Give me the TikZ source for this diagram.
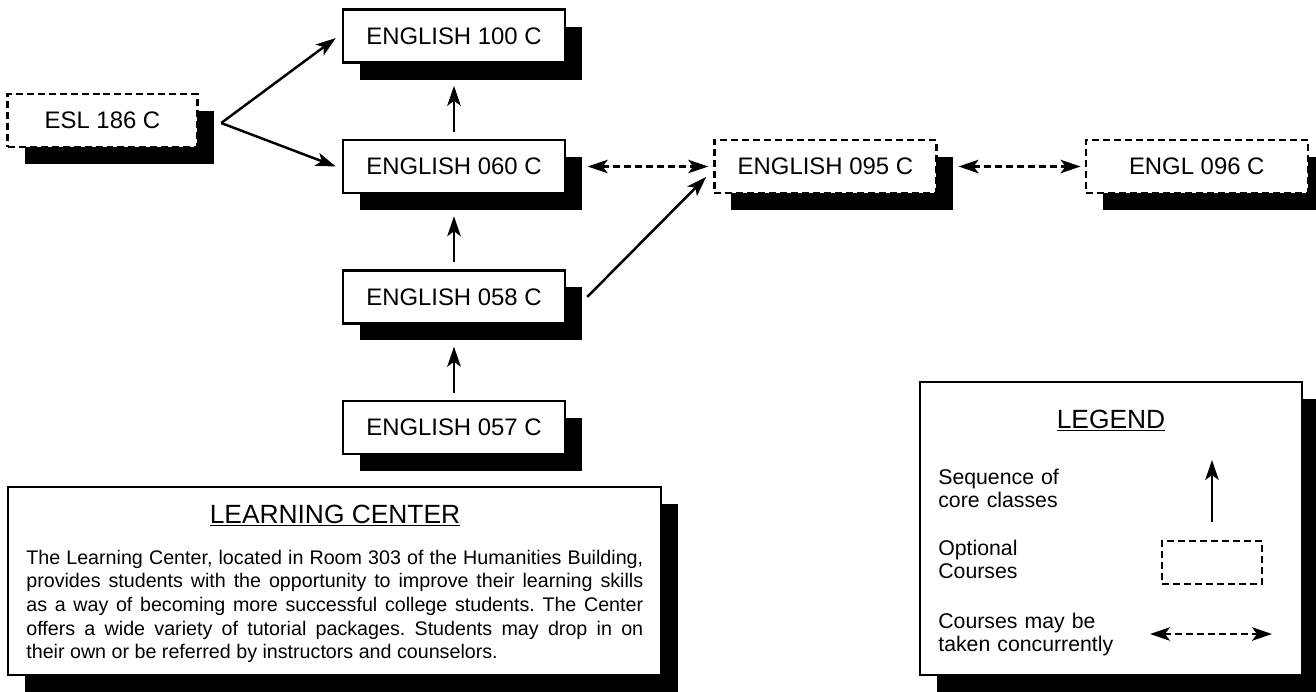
\documentclass[tikz,border=0pt]{standalone}
\usepackage{fontspec}
\setmainfont{Liberation Sans}
\frenchspacing
\usetikzlibrary{positioning}
\usetikzlibrary{shadows}
\usetikzlibrary{arrows.meta}

\begin{document}
\begin{tikzpicture}[x=0.02cm, y=-0.02cm, node distance=1.5cm and 2.94cm,
  >={Stealth[length=0.4cm, width=0.27cm, inset=0.1cm]},
  panel/.style={draw, line width=1.4pt, fill=white, inner sep=0pt,
    general shadow={fill=black, shadow xshift=0.34cm, shadow yshift=-0.34cm}},
  course/.style={panel, minimum width=4.44cm, minimum height=1.06cm,
    font=\fontsize{13.6}{16}\selectfont},
  optcourse/.style={course, dash pattern=on 0.14cm off 0.08cm},
  seq/.style={->, line width=1.4pt},
  conc/.style={<->, line width=1.4pt, dash pattern=on 0.14cm off 0.08cm},
  legtext/.style={anchor=base west, inner sep=0pt, text width=4cm, align=left,
    font=\fontsize{12.1}{13.1}\selectfont}]
\useasboundingbox (0,0) rectangle (1316,691);

% course boxes
\node[course] (e060) at (454,166.5) {ENGLISH 060 C};
\node[course, above=of e060] (e100) {ENGLISH 100 C};
\node[course, below=of e060] (e058) {ENGLISH 058 C};
\node[course, below=of e058] (e057) {ENGLISH 057 C};
\node[optcourse, right=of e060] (e095) {ENGLISH 095 C};
\node[optcourse, right=of e095] (e096) {ENGL 096 C};
\node[optcourse, minimum width=3.8cm] (esl) at (102.5,120.5) {ESL 186 C};

% connectors
\coordinate (fork) at ([xshift=0.45cm, yshift=-0.05cm]esl.east);
\draw[seq] (fork) -- ([xshift=-0.12cm, yshift=-0.04cm]e100.west);
\draw[seq] (fork) -- ([xshift=-0.12cm]e060.west);
\draw[seq] ([yshift=0.14cm]e060.north) -- ([yshift=-0.44cm]e100.south);
\draw[seq] ([yshift=0.14cm]e058.north) -- ([yshift=-0.44cm]e060.south);
\draw[seq] ([yshift=0.14cm]e057.north) -- ([yshift=-0.44cm]e058.south);
\draw[seq] ([xshift=0.42cm]e058.east) -- ([xshift=-0.14cm, yshift=-0.21cm]e095.west);
\draw[conc] ([xshift=0.43cm]e060.east) -- ([xshift=-0.1cm]e095.west);
\draw[conc] ([xshift=0.42cm]e095.east) -- ([xshift=-0.08cm]e096.west);

% learning center
\node[panel, minimum width=13.06cm, minimum height=3.76cm] (lcbox) at (334.5,581) {};
\node[anchor=base, font=\fontsize{15}{18}\selectfont] (lctitle) at (335,523) {\underline{LEARNING CENTER}};
\node[anchor=base west, inner sep=0pt, text width=12.34cm, align=justify,
  font=\fontsize{11.2}{13.5}\selectfont] (lctext) at (26,564)
  {The Learning Center, located in Room 303 of the Humanities Building,\linebreak
   provides students with the opportunity to improve their learning skills\linebreak
   as a way of becoming more successful college students. The Center\linebreak
   offers a wide variety of tutorial packages. Students may drop in on\linebreak
   their own or be referred by instructors and counselors.};

% legend
\node[panel, minimum width=7.64cm, minimum height=5.86cm] (legend) at (1111,528.5) {};
\node[anchor=base, font=\fontsize{15}{18}\selectfont] (legtitle) at (1111,428) {\underline{LEGEND}};
\node[legtext] (lseq) at (938,484) {Sequence of\\core classes};
\node[legtext] (lopt) at (938,555) {Optional\\Courses};
\node[legtext] (lconc) at (938,628) {Courses may be\\taken concurrently};
\coordinate (seqfoot) at (1212,522);
\coordinate (seqtip) at (1212,460);
\draw[seq] (seqfoot) -- (seqtip);
\node[draw, line width=1.4pt, dash pattern=on 0.14cm off 0.08cm, minimum width=2cm,
  minimum height=0.86cm] (optkey) at (1212,562.5) {};
\coordinate (concl) at (1150,634);
\coordinate (concr) at (1272,634);
\draw[conc] (concl) -- (concr);
\end{tikzpicture}
\end{document}
